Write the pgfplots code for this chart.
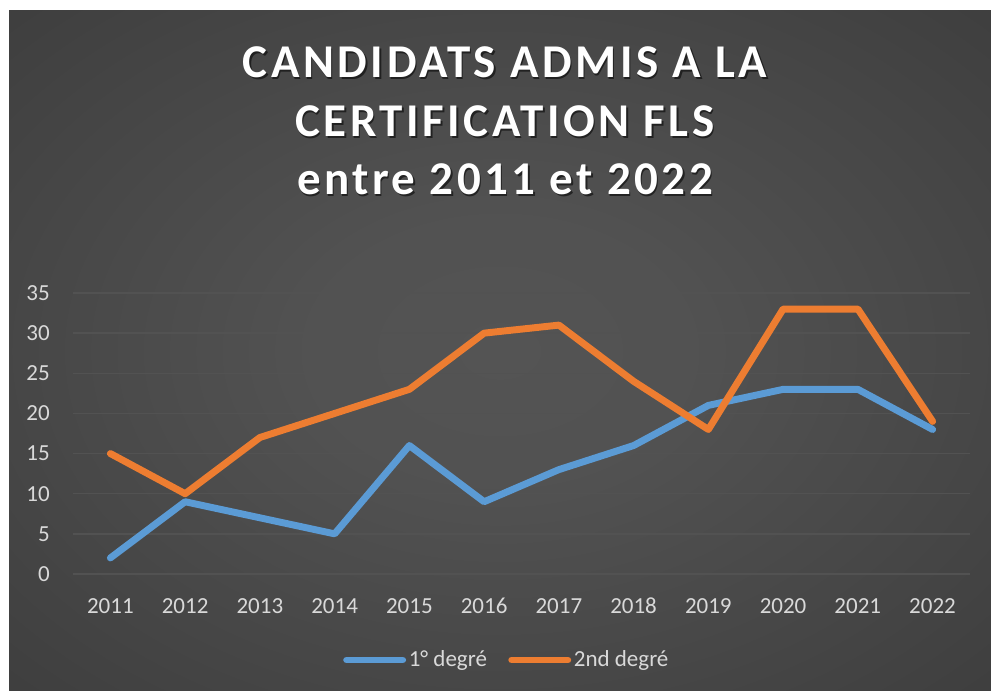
\documentclass[border=0pt]{standalone}
\usepackage{pgfplots}
\pgfplotsset{compat=1.18}
\usepackage{fontspec}
\setmainfont{Carlito}
\newfontfamily\titlefont[LetterSpace=7.5]{Carlito}
\definecolor{bgin}{RGB}{84,84,84}
\definecolor{bgout}{RGB}{36,36,36}
\definecolor{s1}{RGB}{91,155,213}
\definecolor{s2}{RGB}{237,125,49}
\definecolor{gridc}{RGB}{82,82,82}
\definecolor{lab}{RGB}{217,217,217}
\pgfdeclareradialshading{bgshade}{\pgfpoint{0bp}{0bp}}{color(0bp)=(bgin); color(10bp)=(bgin!95!bgout); color(71bp)=(bgout)}
\begin{document}
\begin{tikzpicture}
\begin{scope}[x=0.75pt,y=0.75pt]
\fill[white] (0,0) rectangle (991,691);
\shade[shading=bgshade] (9,0) rectangle (991,680);
% title
\foreach \dx/\dy/\c/\o in {1.5/-1.5/black/0.55, 0/0/white/1}{
\node[anchor=base, text=\c, opacity=\o, inner sep=0, font=\titlefont\fontsize{35.25pt}{42pt}\selectfont\bfseries] at (505+\dx,691-78+\dy) {CANDIDATS ADMIS A LA};
\node[anchor=base, text=\c, opacity=\o, inner sep=0, font=\titlefont\fontsize{35.25pt}{42pt}\selectfont\bfseries] at (505+\dx,691-137+\dy) {CERTIFICATION FLS};
\node[anchor=base, text=\c, opacity=\o, inner sep=0, font=\titlefont\fontsize{35.25pt}{42pt}\selectfont\bfseries] at (505+\dx,691-195+\dy) {entre 2011 et 2022};
}
\end{scope}
\begin{axis}[
  at={(54.75pt,87.75pt)}, anchor=south west,
  scale only axis, width=672.75pt, height=210.75pt,
  xmin=2010.5, xmax=2022.5, ymin=0, ymax=35,
  xtick={2011,...,2022}, ytick={0,5,...,35},
  axis line style={draw=none}, tick style={draw=none},
  ymajorgrids, grid style={gridc, line width=1.1pt},
  /pgf/number format/assume math mode=true,
  /pgf/number format/1000 sep={},
  ticklabel style={font=\fontsize{17.25pt}{20pt}\selectfont, text=lab, inner sep=0pt},
  yticklabel style={anchor=east, xshift=-17.25pt},
  xticklabel style={anchor=base, yshift=-30pt},
  clip=false,
  legend columns=2,
  legend style={at={(0.484,-0.306)}, anchor=center, draw=none, fill=none, text=lab,
    font=\fontsize{17.25pt}{20pt}\selectfont,
    /tikz/every even column/.append style={column sep=14pt}},
  legend image code/.code={\draw[#1, line cap=round] (0pt,0pt) -- (42pt,0pt);},
  every axis plot/.append style={line width=5.2pt, line join=round, line cap=round},
]
\addplot[s1] coordinates {(2011,2) (2012,9) (2013,7) (2014,5) (2015,16) (2016,9) (2017,13) (2018,16) (2019,21) (2020,23) (2021,23) (2022,18)};
\addlegendentry{1° degré}
\addplot[s2] coordinates {(2011,15) (2012,10) (2013,17) (2014,20) (2015,23) (2016,30) (2017,31) (2018,24) (2019,18) (2020,33) (2021,33) (2022,19)};
\addlegendentry{2nd degré}
\end{axis}
\end{tikzpicture}
\end{document}
